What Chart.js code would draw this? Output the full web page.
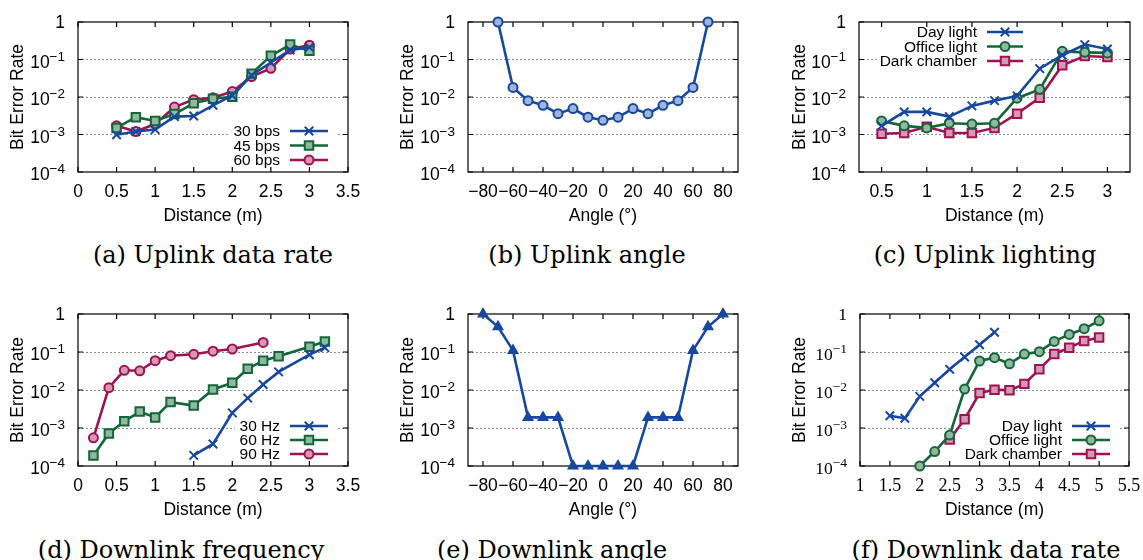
<!DOCTYPE html>
<html>
<head>
<meta charset="utf-8">
<script src="https://cdn.jsdelivr.net/npm/chart.js@4.4.1/dist/chart.umd.min.js"></script>
<style>
  body { margin: 0; background: #fff; width: 1143px; height: 560px; position: relative; overflow: hidden; }
  canvas { position: absolute; }
  .cap { position: absolute; font-family: "DejaVu Serif"; font-size: 24px; white-space: nowrap; transform: translate(-50%, -50%); color: #000; }
</style>
</head>
<body>
<script>
// ---- tick labels ----
const berTicks = [1e-4, 1e-3, 1e-2, 1e-1, 1];
const distTicks = [0, 0.5, 1, 1.5, 2, 2.5, 3, 3.5];
const angleTicks = [-80, -60, -40, -20, 0, 20, 40, 60, 80];
const lightTicks = [0.5, 1, 1.5, 2, 2.5, 3];
const dlRateTicks = [1, 1.5, 2, 2.5, 3, 3.5, 4, 4.5, 5, 5.5];

// ---- (a) uplink data rate ----
const upDist = [0.5, 0.75, 1, 1.25, 1.5, 1.75, 2, 2.25, 2.5, 2.75, 3];
const ber30bps = [0.00098, 0.0012, 0.00135, 0.003, 0.0031, 0.006, 0.011, 0.038, 0.083, 0.18, 0.21];
const ber45bps = [0.0015, 0.0029, 0.0023, 0.0035, 0.0068, 0.009, 0.0102, 0.042, 0.125, 0.25, 0.17];
const ber60bps = [0.0017, 0.0012, 0.0019, 0.0054, 0.0085, 0.0095, 0.014, 0.035, 0.058, 0.19, 0.24];

// ---- (b) uplink angle ----
const upAngle = [-70, -60, -50, -40, -30, -20, -10, 0, 10, 20, 30, 40, 50, 60, 70];
const berUpAngle = [1, 0.018, 0.008, 0.006, 0.0036, 0.0049, 0.0029, 0.0024, 0.0029, 0.0049, 0.0036, 0.006, 0.008, 0.018, 1];

// ---- (c) uplink lighting ----
const lightDist = [0.5, 0.75, 1, 1.25, 1.5, 1.75, 2, 2.25, 2.5, 2.75, 3];
const berDayUp = [0.0017, 0.004, 0.004, 0.003, 0.0058, 0.008, 0.0107, 0.057, 0.13, 0.25, 0.19];
const berOfficeUp = [0.0023, 0.0017, 0.0015, 0.002, 0.0019, 0.002, 0.0093, 0.016, 0.165, 0.155, 0.15];
const berDarkUp = [0.00105, 0.0011, 0.0016, 0.0011, 0.0011, 0.0015, 0.0036, 0.0095, 0.07, 0.124, 0.117];

// ---- (d) downlink frequency ----
const dist30Hz = [1.5, 1.75, 2, 2.2, 2.4, 2.6, 3, 3.2];
const ber30Hz = [0.00019, 0.00038, 0.0025, 0.0061, 0.014, 0.03, 0.085, 0.13];
const dist60Hz = [0.2, 0.4, 0.6, 0.8, 1, 1.2, 1.5, 1.75, 2, 2.2, 2.4, 2.6, 3, 3.2];
const ber60Hz = [0.00019, 0.00072, 0.0015, 0.0027, 0.0019, 0.0048, 0.0039, 0.0103, 0.0155, 0.036, 0.059, 0.077, 0.138, 0.19];
const dist90Hz = [0.2, 0.4, 0.6, 0.8, 1, 1.2, 1.5, 1.75, 2, 2.4];
const ber90Hz = [0.00055, 0.0115, 0.033, 0.032, 0.059, 0.08, 0.087, 0.105, 0.12, 0.178];

// ---- (e) downlink angle ----
const dlAngle = [-80, -70, -60, -50, -40, -30, -20, -10, 0, 10, 20, 30, 40, 50, 60, 70, 80];
const berDlAngle = [1, 0.46, 0.11, 0.0019, 0.0019, 0.0019, 0.0001, 0.0001, 0.0001, 0.0001, 0.0001, 0.0019, 0.0019, 0.0019, 0.11, 0.46, 1];

// ---- (f) downlink data rate ----
const distDayDl = [1.5, 1.75, 2, 2.25, 2.5, 2.75, 3, 3.25];
const berDayDl = [0.0021, 0.0018, 0.0068, 0.0155, 0.035, 0.074, 0.155, 0.33];
const distOfficeDl = [2, 2.25, 2.5, 2.75, 3, 3.25, 3.5, 3.75, 4, 4.25, 4.5, 4.75, 5];
const berOfficeDl = [0.0001, 0.00024, 0.00065, 0.0106, 0.058, 0.071, 0.049, 0.088, 0.102, 0.19, 0.29, 0.41, 0.66];
const distDarkDl = [2.5, 2.75, 3, 3.25, 3.5, 3.75, 4, 4.25, 4.5, 4.75, 5];
const berDarkDl = [0.0005, 0.0017, 0.0083, 0.0102, 0.0098, 0.0145, 0.035, 0.088, 0.13, 0.196, 0.24];

// colours
const BLUE = '#17489e', BLUE_F = '#9fb4da';
const GREEN = '#146638', GREEN_F = '#8fb89f';
const MAG = '#9e1254', MAG_F = '#d699b5';

const SANS = '"Liberation Sans", Arial, sans-serif';
const SERIF = '"Liberation Serif", "Times New Roman", serif';
const FS = 17.5;

function series(label, xs, ys, color, fill, style, radius) {
  return {
    label: label,
    data: xs.map((x, i) => ({ x: x, y: ys[i] })),
    borderColor: color,
    backgroundColor: color,
    borderWidth: 2.6,
    pointStyle: style,
    pointRadius: radius,
    pointBorderWidth: 2,
    pointBorderColor: color,
    pointBackgroundColor: fill,
    tension: 0,
    clip: false
  };
}

function marker(ctx, style, x, y, r, stroke, fill, lw) {
  ctx.save();
  ctx.lineWidth = lw; ctx.strokeStyle = stroke; ctx.fillStyle = fill;
  ctx.beginPath();
  if (style === 'circle') {
    ctx.arc(x, y, r, 0, Math.PI * 2); ctx.fill(); ctx.stroke();
  } else if (style === 'rect') {
    const s = r * Math.SQRT1_2; ctx.rect(x - s, y - s, 2 * s, 2 * s); ctx.fill(); ctx.stroke();
  } else if (style === 'crossRot') {
    const s = r * Math.SQRT1_2;
    ctx.moveTo(x - s, y - s); ctx.lineTo(x + s, y + s);
    ctx.moveTo(x + s, y - s); ctx.lineTo(x - s, y + s); ctx.stroke();
  }
  ctx.restore();
}

// frame, inward ticks, superscript y labels and gnuplot-like key
const gnuFrame = {
  id: 'gnuFrame',
  beforeDatasetsDraw(chart) {
    const o = chart.options.plugins.gnuFrame;
    const a = chart.chartArea, ctx = chart.ctx;
    const xs = chart.scales.x, ys = chart.scales.y;
    ctx.save();
    if (o.key) {
      const k = o.key;
      ctx.font = '15px ' + SANS;
      const w = Math.max(...chart.data.datasets.map(d => ctx.measureText(d.label).width));
      ctx.fillStyle = '#fff';
      ctx.fillRect(a.left + k.textRight - w - 6, a.top + k.rows[0] - 9,
        k.lineEnd - k.textRight + w + 14, k.rows[2] - k.rows[0] + 18);
    }
    ctx.strokeStyle = '#000'; ctx.lineWidth = 1.2;
    ctx.strokeRect(a.left, a.top, a.right - a.left, a.bottom - a.top);
    ctx.beginPath();
    xs.ticks.forEach(t => {
      const p = xs.getPixelForValue(t.value);
      ctx.moveTo(p, a.bottom); ctx.lineTo(p, a.bottom - 5);
      ctx.moveTo(p, a.top); ctx.lineTo(p, a.top + 5);
    });
    ys.ticks.forEach(t => {
      const p = ys.getPixelForValue(t.value);
      ctx.moveTo(a.left, p); ctx.lineTo(a.left + 5, p);
      ctx.moveTo(a.right, p); ctx.lineTo(a.right - 5, p);
    });
    ctx.stroke();
    // y tick labels 10^n
    const fam = o.tickFont;
    ctx.fillStyle = '#000'; ctx.textAlign = 'right';
    ys.ticks.forEach(t => {
      const p = ys.getPixelForValue(t.value);
      const e = Math.round(Math.log10(t.value));
      const xr = a.left - 13;
      if (e === 0) {
        ctx.font = FS + 'px ' + fam; ctx.textBaseline = 'middle';
        ctx.fillText('1', xr, p + 1);
      } else {
        const s = '\u2212' + (-e);
        ctx.font = '13.5px ' + fam; ctx.textBaseline = 'alphabetic';
        ctx.fillText(s, xr, p + 1);
        const sw = ctx.measureText(s).width;
        ctx.font = FS + 'px ' + fam; ctx.textBaseline = 'middle';
        ctx.fillText('10', xr - sw, p + 3.5);
      }
    });
    ctx.restore();
  },
  afterDatasetsDraw(chart) {
    const o = chart.options.plugins.gnuFrame;
    if (!o.key) return;
    const a = chart.chartArea, ctx = chart.ctx, k = o.key;
    ctx.save();
    chart.data.datasets.forEach((d, i) => {
      const y = a.top + k.rows[i];
      ctx.font = '15.5px ' + SANS; ctx.fillStyle = '#000';
      ctx.textAlign = 'right'; ctx.textBaseline = 'middle';
      ctx.fillText(d.label, a.left + k.textRight, y + 1);
      ctx.strokeStyle = d.borderColor; ctx.lineWidth = d.borderWidth;
      ctx.beginPath();
      ctx.moveTo(a.left + k.lineStart, y); ctx.lineTo(a.left + k.lineEnd, y);
      ctx.stroke();
      marker(ctx, d.pointStyle, a.left + (k.lineStart + k.lineEnd) / 2, y, d.pointRadius,
        d.pointBorderColor, d.pointBackgroundColor, d.pointBorderWidth);
    });
    ctx.restore();
  }
};

const CANVAS_H = 240;

function makePanel(p) {
  const cv = document.createElement('canvas');
  cv.width = p.w; cv.height = CANVAS_H;
  cv.style.left = p.left + 'px'; cv.style.top = p.top + 'px';
  document.body.appendChild(cv);
  const [pl, pr, pt, pb] = p.plot;
  const yW = pl - p.left;
  const xH = CANVAS_H - (pb - p.top);
  const tickFam = p.serifTicks ? SERIF : SANS;
  new Chart(cv.getContext('2d'), {
    type: 'line',
    data: { datasets: p.datasets },
    options: {
      responsive: false,
      animation: false,
      events: [],
      layout: { padding: { left: 0, top: pt - p.top, right: p.left + p.w - pr, bottom: 0 } },
      plugins: {
        legend: { display: false },
        tooltip: { enabled: false },
        gnuFrame: { key: p.key, tickFont: tickFam }
      },
      scales: {
        x: {
          type: 'linear', min: p.xMin, max: p.xMax,
          afterBuildTicks: s => { s.ticks = p.xTicks.map(v => ({ value: v })); },
          afterFit: s => { s.height = xH; s.paddingLeft = 0; s.paddingRight = 0; },
          grid: { display: false, drawTicks: false },
          border: { display: false },
          ticks: {
            autoSkip: false, maxRotation: 0, padding: 11, color: '#000',
            font: { family: tickFam, size: p.serifTicks ? 18 : FS, lineHeight: 1 },
            callback: v => String(v).replace('-', '\u2212')
          },
          title: {
            display: true, text: p.xTitle, color: '#000',
            font: { family: SANS, size: FS, lineHeight: 1 },
            padding: { top: 0, bottom: 15 }
          }
        },
        y: {
          type: 'logarithmic', min: 1e-4, max: 1,
          afterBuildTicks: s => { s.ticks = berTicks.map(v => ({ value: v })); },
          afterFit: s => { s.width = yW; s.paddingTop = 0; s.paddingBottom = 0; },
          grid: {
            drawTicks: false, lineWidth: 1,
            color: c => (c.tick && [0.1, 0.01, 0.001].includes(c.tick.value)) ? '#8c8c8c' : 'rgba(0,0,0,0)'
          },
          border: { display: false, dash: [2, 2] },
          ticks: { display: false },
          title: {
            display: true, text: 'Bit Error Rate', color: '#000',
            font: { family: SANS, size: FS, lineHeight: 1 },
            padding: { top: p.yTitleX - FS / 2, bottom: 0 }
          }
        }
      }
    },
    plugins: [gnuFrame]
  });
  const cap = document.createElement('div');
  cap.className = 'cap';
  cap.textContent = p.caption;
  cap.style.left = p.capX + 'px'; cap.style.top = p.capY + 'px';
  document.body.appendChild(cap);
}

const panels = [
  {
    left: 0, top: 0, w: 380, plot: [78, 348, 22, 172], xMin: 0, xMax: 3.5, xTicks: distTicks,
    xTitle: 'Distance (m)', yTitleX: 18, caption: '(a) Uplink data rate', capX: 213, capY: 255,
    key: { textRight: 202, lineStart: 212, lineEnd: 250, rows: [109, 123.5, 138] },
    datasets: [
      series('30 bps', upDist, ber30bps, BLUE, BLUE_F, 'crossRot', 6),
      series('45 bps', upDist, ber45bps, GREEN, GREEN_F, 'rect', 6),
      series('60 bps', upDist, ber60bps, MAG, MAG_F, 'circle', 4.5)
    ]
  },
  {
    left: 380, top: 0, w: 380, plot: [468, 738, 22, 172], xMin: -90, xMax: 90, xTicks: angleTicks,
    xTitle: 'Angle (\u00b0)', yTitleX: 28, caption: '(b) Uplink angle', capX: 587, capY: 255,
    key: null,
    datasets: [series('Uplink', upAngle, berUpAngle, BLUE, BLUE_F, 'circle', 4.5)]
  },
  {
    left: 760, top: 0, w: 383, plot: [859, 1130, 22, 172], xMin: 0.25, xMax: 3.25, xTicks: lightTicks,
    xTitle: 'Distance (m)', yTitleX: 40, caption: '(c) Uplink lighting', capX: 985, capY: 255,
    key: { textRight: 118, lineStart: 128, lineEnd: 164, rows: [10, 24.5, 39] },
    datasets: [
      series('Day light', lightDist, berDayUp, BLUE, BLUE_F, 'crossRot', 6),
      series('Office light', lightDist, berOfficeUp, GREEN, GREEN_F, 'circle', 4.5),
      series('Dark chamber', lightDist, berDarkUp, MAG, MAG_F, 'rect', 6)
    ]
  },
  {
    left: 0, top: 294, w: 380, plot: [78, 348, 314, 466], xMin: 0, xMax: 3.5, xTicks: distTicks,
    xTitle: 'Distance (m)', yTitleX: 18, caption: '(d) Downlink frequency', capX: 181, capY: 550,
    key: { textRight: 202, lineStart: 212, lineEnd: 250, rows: [112, 126, 140] },
    datasets: [
      series('30 Hz', dist30Hz, ber30Hz, BLUE, BLUE_F, 'crossRot', 6),
      series('60 Hz', dist60Hz, ber60Hz, GREEN, GREEN_F, 'rect', 6),
      series('90 Hz', dist90Hz, ber90Hz, MAG, MAG_F, 'circle', 4.5)
    ]
  },
  {
    left: 380, top: 294, w: 380, plot: [468, 738, 314, 466], xMin: -90, xMax: 90, xTicks: angleTicks,
    xTitle: 'Angle (\u00b0)', yTitleX: 28, caption: '(e) Downlink angle', capX: 552, capY: 550,
    key: null,
    datasets: [series('Downlink', dlAngle, berDlAngle, BLUE, BLUE, 'triangle', 5)]
  },
  {
    left: 760, top: 294, w: 383, plot: [860, 1129, 314, 466], xMin: 1, xMax: 5.5, xTicks: dlRateTicks,
    xTitle: 'Distance (m)', yTitleX: 40, caption: '(f) Downlink data rate', capX: 986, capY: 550,
    serifTicks: true,
    key: { textRight: 202, lineStart: 212, lineEnd: 250, rows: [112, 126, 140] },
    datasets: [
      series('Day light', distDayDl, berDayDl, BLUE, BLUE_F, 'crossRot', 6),
      series('Office light', distOfficeDl, berOfficeDl, GREEN, GREEN_F, 'circle', 4.5),
      series('Dark chamber', distDarkDl, berDarkDl, MAG, MAG_F, 'rect', 6)
    ]
  }
];

panels.forEach(makePanel);
</script>
</body>
</html>
